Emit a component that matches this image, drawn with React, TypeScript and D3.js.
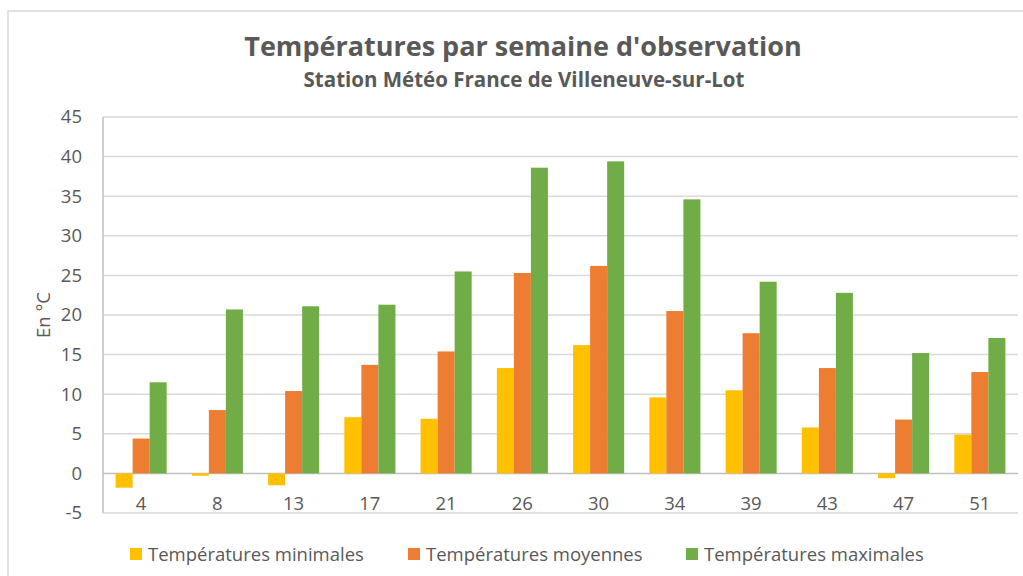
import React from "react";
import * as d3 from "d3";

const weeks = ["4", "8", "13", "17", "21", "26", "30", "34", "39", "43", "47", "51"];
const seriesNames = ["Températures minimales", "Températures moyennes", "Températures maximales"];
const minTemps = [-1.8, -0.3, -1.5, 7.1, 6.9, 13.3, 16.2, 9.6, 10.5, 5.8, -0.6, 4.9];
const meanTemps = [4.4, 8.0, 10.4, 13.7, 15.4, 25.3, 26.2, 20.5, 17.7, 13.3, 6.8, 12.8];
const maxTemps = [11.5, 20.7, 21.1, 21.3, 25.5, 38.6, 39.4, 34.6, 24.2, 22.8, 15.2, 17.1];
const yTicks = [-5, 0, 5, 10, 15, 20, 25, 30, 35, 40, 45];
const colors = ["#FFC000", "#ED7D31", "#70AD47"];

const W = 1023;
const H = 576;
const FONT = "'Open Sans', 'Noto Sans', sans-serif";
const TXT = "#595959";
const FS = 18.5;

export default function App() {
  const series = [minTemps, meanTemps, maxTemps];
  const x0 = d3.scaleBand<string>().domain(weeks).range([103, 1018]).paddingInner(0.33).paddingOuter(0.165);
  const x1 = d3.scaleBand<number>().domain([0, 1, 2]).range([0, x0.bandwidth()]).padding(0);
  const y = d3.scaleLinear().domain([-5, 45]).range([513, 117]);

  const legendX = [130, 408, 686];

  return (
    <svg
      width={W}
      height={H}
      style={{ position: "absolute", left: 0, top: 0, background: "#fff" }}
      fontFamily={FONT}
    >
      <rect x={0} y={0} width={W} height={H} fill="#fff" />
      {/* chart border */}
      <path d={`M8,${H} V11 H${W}`} fill="none" stroke="#d9d9d9" strokeWidth={1.5} />

      {/* titles */}
      <text x={523} y={56} textAnchor="middle" fontSize={27} fontWeight={700} fill={TXT}>
        Températures par semaine d'observation
      </text>
      <text x={524} y={87} textAnchor="middle" fontSize={20.5} fontWeight={700} fill={TXT}>
        Station Météo France de Villeneuve-sur-Lot
      </text>

      {/* gridlines */}
      {yTicks.map((t) => (
        <line
          key={t}
          x1={103}
          x2={1018}
          y1={y(t)}
          y2={y(t)}
          stroke={t === 0 ? "#bfbfbf" : "#d9d9d9"}
          strokeWidth={1.5}
        />
      ))}
      <line x1={103} x2={103} y1={y(45)} y2={y(-5)} stroke="#bfbfbf" strokeWidth={1.5} />

      {/* y tick labels */}
      {yTicks.map((t) => (
        <text key={t} x={82} y={y(t)} dy="0.35em" textAnchor="end" fontSize={FS} fill={TXT}>
          {t}
        </text>
      ))}

      {/* y axis title */}
      <text
        transform={`translate(50,${y(20)}) rotate(-90)`}
        textAnchor="middle"
        fontSize={FS}
        fill={TXT}
      >
        En °C
      </text>

      {/* bars */}
      {weeks.map((w, i) => (
        <g key={w} transform={`translate(${x0(w)},0)`}>
          {series.map((s, k) => {
            const v = s[i];
            return (
              <rect
                key={k}
                x={x1(k)}
                y={y(Math.max(0, v))}
                width={x1.bandwidth()}
                height={Math.abs(y(v) - y(0))}
                fill={colors[k]}
              />
            );
          })}
        </g>
      ))}

      {/* x labels */}
      {weeks.map((w) => (
        <text
          key={w}
          x={(x0(w) as number) + x0.bandwidth() / 2}
          y={510}
          textAnchor="middle"
          fontSize={FS}
          fill={TXT}
        >
          {w}
        </text>
      ))}

      {/* legend */}
      {seriesNames.map((n, k) => (
        <g key={n}>
          <rect x={legendX[k]} y={548} width={12} height={12} fill={colors[k]} />
          <text x={legendX[k] + 18} y={561} fontSize={FS} fill={TXT}>
            {n}
          </text>
        </g>
      ))}
    </svg>
  );
}
